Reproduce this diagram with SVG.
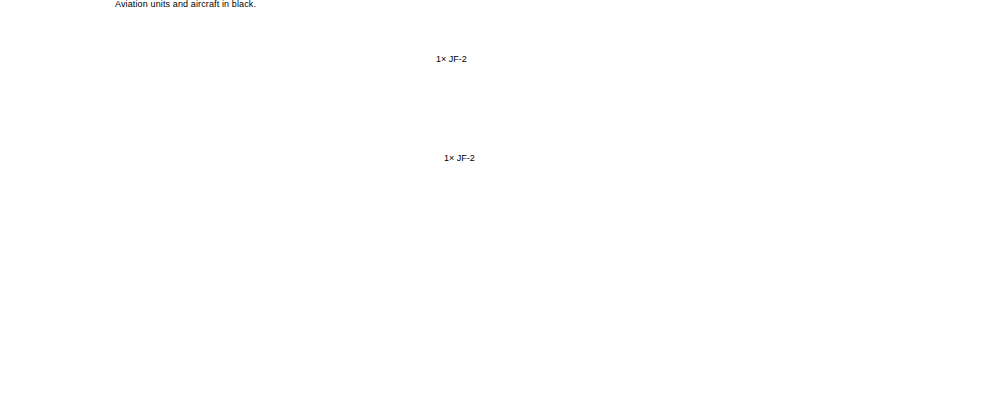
<svg xmlns="http://www.w3.org/2000/svg" width="1000" height="400" viewBox="0 0 1000 400">
<style>text{font-family:"Liberation Sans",Arial,sans-serif;font-size:9px;fill:#000}</style>
<rect width="1000" height="400" fill="#fff"/>
<text x="115" y="7" textLength="141">Aviation units and aircraft in black.</text>
<g id="node1"><text x="436" y="62">1× JF-2</text></g>
<g id="node2"><text x="444" y="161">1× JF-2</text></g>
<g id="connectors"></g>
</svg>
